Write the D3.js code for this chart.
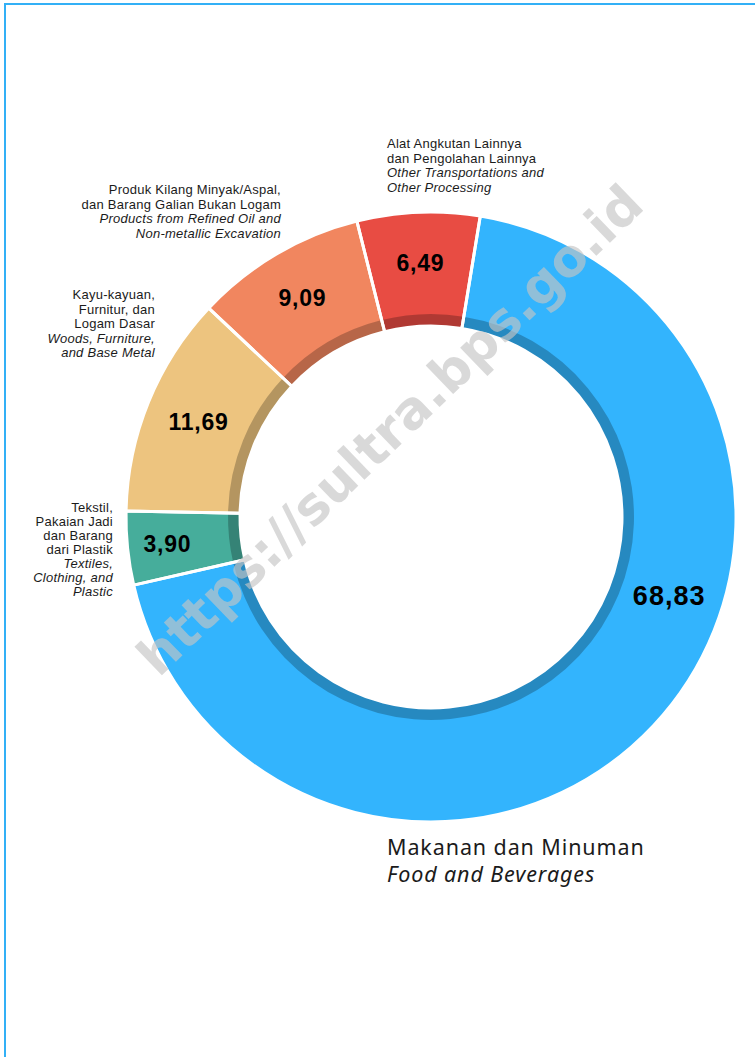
<!DOCTYPE html>
<html lang="id">
<head>
    <meta charset="UTF-8">
    <title>Komposisi Industri</title>
    <style>
        html, body { margin: 0; padding: 0; background: #fff; }
        svg { display: block; }
    </style>
</head>
<body>
    <div id="chart"></div>

    <script src="https://d3js.org/d3.v7.min.js"></script>
    <script>
        // data
        const categoriesId = [
            ["Makanan dan Minuman"],
            ["Tekstil,", "Pakaian Jadi", "dan Barang", "dari Plastik"],
            ["Kayu-kayuan,", "Furnitur, dan", "Logam Dasar"],
            ["Produk Kilang Minyak/Aspal,", "dan Barang Galian Bukan Logam"],
            ["Alat Angkutan Lainnya", "dan Pengolahan Lainnya"]
        ];
        const categoriesEn = [
            ["Food and Beverages"],
            ["Textiles,", "Clothing, and", "Plastic"],
            ["Woods, Furniture,", "and Base Metal"],
            ["Products from Refined Oil and", "Non-metallic Excavation"],
            ["Other Transportations and", "Other Processing"]
        ];
        const values = [68.83, 3.90, 11.69, 9.09, 6.49];
        const colors = ["#33b4fd", "#46ad9b", "#edc47f", "#f1865f", "#e84c43"];

        const W = 755, H = 1057;
        const svg = d3.select("#chart").append("svg").attr("width", W).attr("height", H);

        // frame
        svg.append("path")
            .attr("d", "M5," + H + "V4H" + W)
            .attr("fill", "none")
            .attr("stroke", "#32b0f6")
            .attr("stroke-width", 2);

        const cx = 431, cy = 517;
        const rOuter = 305, rInner = 191, rBand = 203;

        const g = svg.append("g").attr("transform", "translate(" + cx + "," + cy + ")");

        const start = 9.3 * Math.PI / 180;
        const pie = d3.pie().sort(null).startAngle(start).endAngle(start + 2 * Math.PI);
        const arcs = pie(values);

        const arc = d3.arc().innerRadius(rInner).outerRadius(rOuter);
        const bandArc = d3.arc().innerRadius(rInner).outerRadius(rBand);

        g.selectAll(".slice")
            .data(arcs)
            .enter().append("path")
            .attr("class", "slice")
            .attr("d", arc)
            .attr("fill", (d, i) => colors[i]);

        g.selectAll(".band")
            .data(arcs)
            .enter().append("path")
            .attr("class", "band")
            .attr("d", bandArc)
            .attr("fill", "#000")
            .attr("fill-opacity", 0.24);

        g.selectAll(".edge")
            .data(arcs)
            .enter().append("path")
            .attr("class", "edge")
            .attr("d", arc)
            .attr("fill", "none")
            .attr("stroke", "#fff")
            .attr("stroke-width", 3)
            .attr("stroke-linejoin", "round");

        // value labels
        const fmt = d3.formatLocale({decimal: ",", thousands: ".", grouping: [3], currency: ["", ""]}).format(".2f");
        const labelR = [251, 265, 251, 254, 254];
        g.selectAll(".val")
            .data(arcs)
            .enter().append("text")
            .attr("class", "val")
            .attr("transform", (d, i) => {
                const frac = d.data > 50 ? 0.40 : 0.5;
                const a = d.startAngle + (d.endAngle - d.startAngle) * frac;
                return "translate(" + (labelR[i] * Math.sin(a)) + "," + (-labelR[i] * Math.cos(a)) + ")";
            })
            .attr("text-anchor", "middle")
            .attr("dominant-baseline", "central")
            .style("font-family", "'Liberation Sans', Arial, sans-serif")
            .style("font-weight", "bold")
            .style("font-size", (d, i) => i === 0 ? "27px" : "23px")
            .style("letter-spacing", (d, i) => i === 0 ? "1px" : "0.8px")
            .attr("fill", "#000")
            .text(d => fmt(d.data));

        // category labels
        const labelPos = [
            {x: 387, y: 855, anchor: "start", size: 21.5, lh: 27, ls: 0.9, font: "'Noto Sans', sans-serif"},
            {x: 113, y: 511.5, anchor: "end", size: 13, lh: 14.1, ls: 0.25, font: "'Liberation Sans', Arial, sans-serif"},
            {x: 155, y: 299.3, anchor: "end", size: 13, lh: 14.5, ls: 0.25, font: "'Liberation Sans', Arial, sans-serif"},
            {x: 281, y: 194.3, anchor: "end", size: 13, lh: 14.5, ls: 0.25, font: "'Liberation Sans', Arial, sans-serif"},
            {x: 387, y: 148, anchor: "start", size: 13, lh: 14.6, ls: 0.25, font: "'Liberation Sans', Arial, sans-serif"}
        ];

        labelPos.forEach((p, i) => {
            const t = svg.append("text")
                .attr("text-anchor", p.anchor)
                .style("font-family", p.font)
                .style("font-size", p.size + "px")
                .style("letter-spacing", p.ls + "px")
                .attr("fill", "#1b1b1b");
            const lines = categoriesId[i].map(s => ({s: s, it: false}))
                .concat(categoriesEn[i].map(s => ({s: s, it: true})));
            lines.forEach((l, j) => {
                t.append("tspan")
                    .attr("x", p.x)
                    .attr("y", p.y + j * p.lh)
                    .style("font-style", l.it ? "italic" : "normal")
                    .text(l.s);
            });
        });

        // watermark
        svg.append("text")
            .attr("transform", "translate(390,430) rotate(-44)")
            .attr("text-anchor", "middle")
            .attr("dominant-baseline", "central")
            .style("font-family", "'DejaVu Sans', sans-serif")
            .style("font-weight", "bold")
            .style("font-size", "52px")
            .attr("fill", "#c4c4c4")
            .attr("fill-opacity", 0.65)
            .text("https://sultra.bps.go.id");
    </script>
</body>
</html>
